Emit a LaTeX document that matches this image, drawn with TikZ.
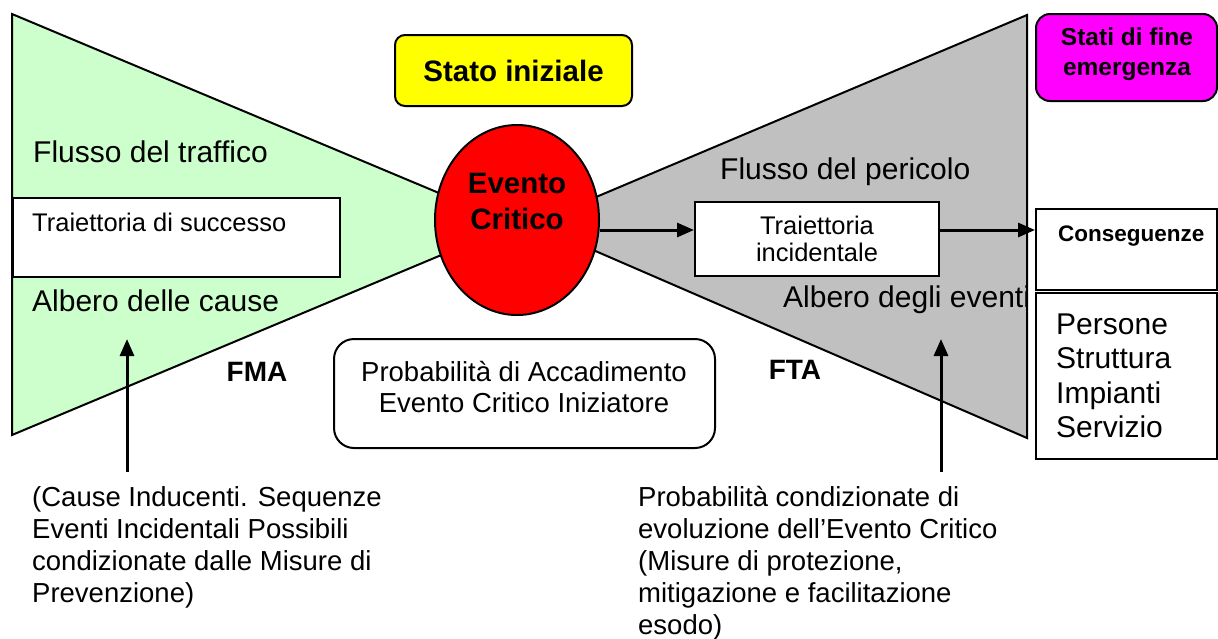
\documentclass[tikz,border=0pt]{standalone}
\usepackage{fontspec}
\setmainfont{Liberation Sans}
\usetikzlibrary{arrows.meta,shapes.geometric}
\definecolor{lgreen}{HTML}{CCFFCC}
\definecolor{lgray}{HTML}{C0C0C0}
\definecolor{myyellow}{HTML}{FFFF00}
\definecolor{mymag}{HTML}{FF00FF}
\definecolor{myred}{HTML}{FF0000}
\begin{document}
\begin{tikzpicture}[x=1pt,y=-1pt,
  outl/.style={draw=black,line width=2pt},
  arr/.style={line width=3pt,-{Triangle[length=17pt,width=14pt]}},
  box/.style={draw=black,line width=2pt,fill=white,inner sep=0pt},
  fbig/.style={font=\fontsize{30}{34.5}\selectfont,inner sep=0pt},
  fmid/.style={font=\fontsize{27.5}{32}\selectfont,inner sep=0pt},
  fsmall/.style={font=\fontsize{25.5}{27}\selectfont,inner sep=0pt},
  fbold/.style={font=\bfseries\fontsize{29.5}{36}\selectfont,inner sep=0pt},
  fboldsm/.style={font=\bfseries\fontsize{24.5}{30}\selectfont,inner sep=0pt}
]
\useasboundingbox (0,0) rectangle (1218,638);
\fill[white] (0,0) rectangle (1218,638);

% bow-tie wings
\path[outl,fill=lgreen] (12,14) -- (470,206) -- (470,243) -- (12,435) -- cycle;
\path[outl,fill=lgray] (1027,15) -- (1027,438) -- (570,240) -- (570,208) -- cycle;

% critical event
\node[ellipse,fill=myred,draw=black,line width=2pt,minimum width=164pt,minimum height=190pt,inner sep=0pt] (ev) at (517,220) {};
\node[fbold,align=center] (evt) at (517,201) {Evento\\Critico};

% top boxes
\node[box,fill=myyellow,rounded corners=10pt,minimum width=237pt,minimum height=71pt,fbold] (si) at (513.5,70.5) {Stato iniziale};
\node[box,fill=mymag,rounded corners=14pt,minimum width=181pt,minimum height=87pt] (sf) at (1126.5,57.5) {};
\node[fboldsm,align=center] (sft) at (1127,54) {Stati di fine\\emergenza};

% left side texts
\node[fbig,anchor=west] (ft) at (33,152) {Flusso del traffico};
\node[box,minimum width=327pt,minimum height=79pt,anchor=north west] (succ) at (12,197) {};
\node[fsmall,anchor=west] (succt) at (32,222) {Traiettoria di successo};
\node[fbig,anchor=west] (ac) at (32,301) {Albero delle cause};
\node[fbold,font=\bfseries\fontsize{28}{32}\selectfont] (fma) at (257,372) {FMA};

% right side texts
\node[fbig,anchor=west] (fp) at (720,172) {Flusso del pericolo};
\node[box,minimum width=244pt,minimum height=74pt,fsmall,align=center] (inc) at (817,239) {Traiettoria\\incidentale};
\node[fbig,anchor=west] (ae) at (783,300) {Albero degli eventi};
\node[fbold,font=\bfseries\fontsize{28}{32}\selectfont] (fta) at (795,370) {FTA};

% consequences
\node[box,minimum width=181pt,minimum height=81pt] (cons) at (1126.5,249.5) {};
\node[font=\bfseries\fontsize{22.5}{24}\selectfont,inner sep=0pt,anchor=west] (const) at (1058,236) {Conseguenze};
\node[box,minimum width=181pt,minimum height=166pt] (pers) at (1126.5,376) {};
\node[fbig,align=left,anchor=west] (perst) at (1056,376) {Persone\\Struttura\\Impianti\\Servizio};

% probability box
\node[box,rounded corners=20pt,minimum width=381pt,minimum height=109pt] (prob) at (524.5,393.5) {};
\node[fmid,align=center] (probt) at (524,387) {Probabilità di Accadimento\\Evento Critico Iniziatore};

% bottom texts
\node[fmid,align=left,anchor=north west] (causes) at (32,486) {(Cause Inducenti. Sequenze\\Eventi Incidentali Possibili\\condizionate dalle Misure di\\Prevenzione)};
\node[fmid,align=left,anchor=north west] (cond) at (638,486) {Probabilità condizionate di\\evoluzione dell’Evento Critico\\(Misure di protezione,\\mitigazione e facilitazione\\esodo)};

% arrows
\draw[arr] ([yshift=-10pt]ev.east) -- ([yshift=9pt]inc.west);
\draw[arr] ([yshift=9pt]inc.east) -- ([yshift=19.5pt]cons.west);
\coordinate (la0) at (127,472);
\coordinate (la1) at (127,339);
\draw[arr] (la0) -- (la1);
\coordinate (ra0) at (941,472);
\coordinate (ra1) at (941,339);
\draw[arr] (ra0) -- (ra1);
\end{tikzpicture}
\end{document}
